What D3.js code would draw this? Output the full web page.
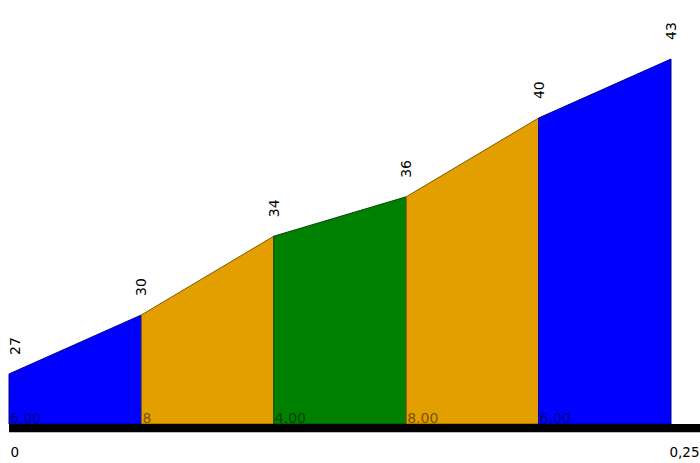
<!DOCTYPE html>
<html>
<head>
<meta charset="utf-8">
<script src="https://cdn.jsdelivr.net/npm/d3@7"></script>
<style>
  html, body { margin: 0; padding: 0; background: #fff; }
  svg { display: block; }
  text { font-family: "DejaVu Sans", Verdana, sans-serif; }
</style>
</head>
<body>
<script>
// Data
const distances = [0, 0.05, 0.10, 0.15, 0.20, 0.25];
const altitudes = [27, 30, 34, 36, 40, 43];
const gradeLabels = ["6.00", "8", "4.00", "8.00", "6.00"];
const fills = ["#0000ff", "#e39e00", "#008000", "#e39e00", "#0000ff"];
const labelColors = ["#000080", "#7a5200", "#004000", "#7a5200", "#000080"];
const xTickValues = [0, 0.25];
const xTickLabels = ["0", "0,25"];

const W = 700, H = 463;
const svg = d3.select("body").append("svg").attr("width", W).attr("height", H);

const x = d3.scaleLinear().domain([0, 0.25]).range([9, 671]);
const y = d3.scaleLinear().domain([24.46, 43]).range([424, 59]);

// Segments
for (let i = 0; i < distances.length - 1; i++) {
  const x0 = x(distances[i]), x1 = x(distances[i + 1]);
  const pts = [[x0, y.range()[0]], [x0, y(altitudes[i])], [x1, y(altitudes[i + 1])], [x1, y.range()[0]]];
  svg.append("path")
    .attr("d", d3.line()(pts) + "Z")
    .attr("fill", fills[i])
    .attr("stroke", d3.color(fills[i]).darker(1.6))
    .attr("stroke-width", 1);
  svg.append("text")
    .attr("x", x0 + 1)
    .attr("y", y.range()[0] - 1)
    .attr("font-size", 14)
    .attr("fill", labelColors[i])
    .text(gradeLabels[i]);
}

// Baseline bar
svg.append("rect")
  .attr("x", x(0)).attr("y", 424)
  .attr("width", W - x(0)).attr("height", 8)
  .attr("fill", "#000");
svg.append("line")
  .attr("x1", x(0)).attr("x2", W).attr("y1", 432.5).attr("y2", 432.5)
  .attr("stroke", "#bbb");

// Altitude labels
altitudes.forEach((a, i) => {
  const cx = Math.max(x(distances[i]), 15);
  svg.append("text")
    .attr("transform", `translate(${cx + 5},${y(a) - 19}) rotate(-90)`)
    .attr("font-size", 14)
    .attr("fill", "#000")
    .text(a);
});

// X axis tick labels
const xAxis = d3.axisBottom(x).tickValues(xTickValues).tickFormat((d, i) => xTickLabels[i]).tickSize(0).tickPadding(0);
const gx = svg.append("g").attr("transform", "translate(0,443)").call(xAxis);
gx.select(".domain").remove();
gx.selectAll("text")
  .attr("font-size", 13.5)
  .attr("font-family", "DejaVu Sans, sans-serif")
  .attr("fill", "#000")
  .attr("text-anchor", (d, i) => i === xTickValues.length - 1 ? "end" : "start")
  .attr("dy", 0)
  .attr("y", 14)
  .attr("x", (d, i) => i === xTickValues.length - 1 ? W - x(d) - 1 : 1);
</script>
</body>
</html>
